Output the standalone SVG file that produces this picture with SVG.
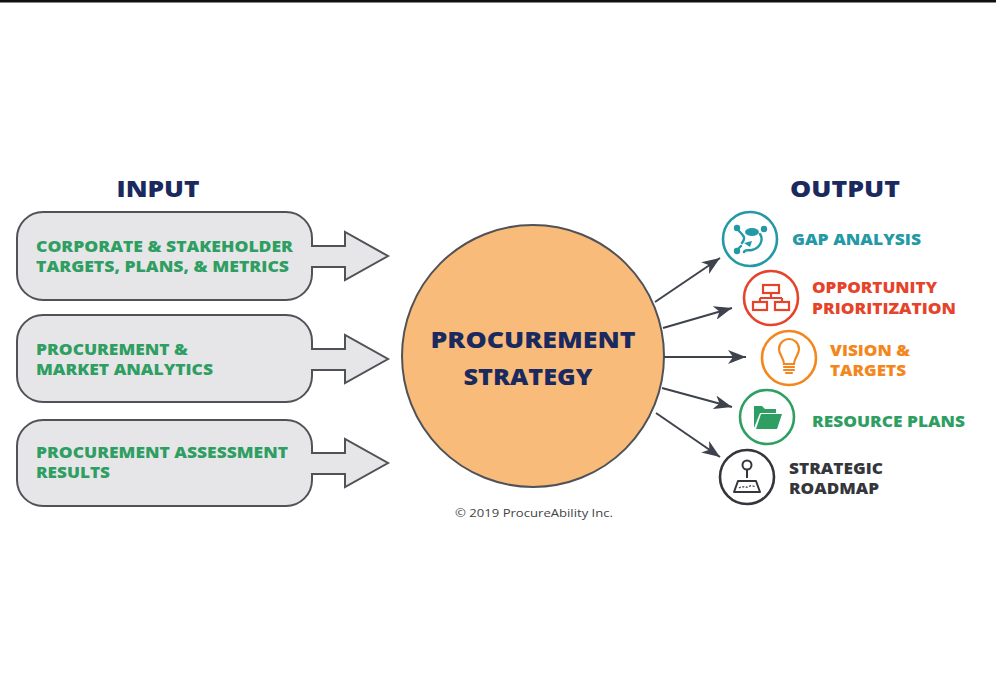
<svg xmlns="http://www.w3.org/2000/svg" width="996" height="698" viewBox="0 0 996 698">
<defs>
<style>
.t{font-family:"Open Sans","Liberation Sans",Arial,sans-serif;font-weight:800}
.h{font-size:23px;fill:#1b2a5e}
.in{font-size:15.5px;fill:#2f9e62}
.out{font-size:15px}
.box{fill:#e6e6e8;stroke:#4f5257;stroke-width:2}
.ic{fill:#fff;stroke-width:2.6}
.conn{stroke:#3d424c;stroke-width:2;fill:none}
</style>
<marker id="ah" markerUnits="userSpaceOnUse" markerWidth="20" markerHeight="14" refX="18" refY="7" orient="auto">
<path d="M0,0 L18,7 L0,14 L5,7 Z" fill="#3d424c"/>
</marker>
</defs>
<rect width="996" height="698" fill="#fff"/>
<rect x="0" y="0" width="996" height="2.5" fill="#111"/>

<text class="t h" x="158" y="197" text-anchor="middle" textLength="83" lengthAdjust="spacingAndGlyphs">INPUT</text>
<text class="t h" x="845" y="197" text-anchor="middle" textLength="110" lengthAdjust="spacingAndGlyphs">OUTPUT</text>

<g id="input1">
<path class="box" d="M43,212 H286 A26,26 0 0 1 312,238 V246 H345 V232 L388,256 L345,280 V267 H312 V274 A26,26 0 0 1 286,300 H43 A26,26 0 0 1 17,274 V238 A26,26 0 0 1 43,212 Z"/>
<text class="t in" x="36" y="252" textLength="257" lengthAdjust="spacingAndGlyphs">CORPORATE &amp; STAKEHOLDER</text>
<text class="t in" x="36" y="272" textLength="253" lengthAdjust="spacingAndGlyphs">TARGETS, PLANS, &amp; METRICS</text>
</g>
<g id="input2">
<path class="box" d="M43,315 H286 A26,26 0 0 1 312,341 V349 H345 V335 L388,359 L345,383 V370 H312 V376 A26,26 0 0 1 286,402 H43 A26,26 0 0 1 17,376 V341 A26,26 0 0 1 43,315 Z"/>
<text class="t in" x="36" y="355" textLength="152" lengthAdjust="spacingAndGlyphs">PROCUREMENT &amp;</text>
<text class="t in" x="36" y="375" textLength="177" lengthAdjust="spacingAndGlyphs">MARKET ANALYTICS</text>
</g>
<g id="input3">
<path class="box" d="M43,420 H286 A26,26 0 0 1 312,446 V453 H345 V439 L388,463 L345,487 V474 H312 V480 A26,26 0 0 1 286,506 H43 A26,26 0 0 1 17,480 V446 A26,26 0 0 1 43,420 Z"/>
<text class="t in" x="36" y="458" textLength="252" lengthAdjust="spacingAndGlyphs">PROCUREMENT ASSESSMENT</text>
<text class="t in" x="36" y="478" textLength="74" lengthAdjust="spacingAndGlyphs">RESULTS</text>
</g>

<g id="center">
<circle cx="533" cy="356" r="131" fill="#f9bb7a" stroke="#4f5257" stroke-width="2"/>
<text class="t h" x="533" y="348" text-anchor="middle" textLength="205" lengthAdjust="spacingAndGlyphs">PROCUREMENT</text>
<text class="t h" x="528" y="385" text-anchor="middle" textLength="129" lengthAdjust="spacingAndGlyphs">STRATEGY</text>
</g>
<text x="534" y="517" text-anchor="middle" font-family="'Open Sans','Liberation Sans',sans-serif" font-size="11.5" fill="#444" textLength="158" lengthAdjust="spacingAndGlyphs">© 2019 ProcureAbility Inc.</text>

<g id="connectors">
<line class="conn" x1="655" y1="302" x2="720" y2="258" marker-end="url(#ah)"/>
<line class="conn" x1="663" y1="328" x2="732" y2="308" marker-end="url(#ah)"/>
<line class="conn" x1="664" y1="357" x2="746" y2="357" marker-end="url(#ah)"/>
<line class="conn" x1="662" y1="388" x2="732" y2="407" marker-end="url(#ah)"/>
<line class="conn" x1="656" y1="413" x2="720" y2="457" marker-end="url(#ah)"/>
</g>

<g id="gap">
<circle class="ic" cx="750" cy="239" r="27" stroke="#2499a6"/>
<g fill="none" stroke="#2499a6" stroke-width="2.4" stroke-linecap="round">
<path d="M739,231 C744,236 746,238 742,243 M760,234 C764,240 760,248 752,250 C748,251 745,249 744,252 M741,246 L737,250"/>
<circle cx="737" cy="228" r="2" fill="#2499a6"/>
<circle cx="764" cy="229" r="2" fill="#2499a6"/>
<circle cx="737" cy="251" r="2" fill="#2499a6"/>
</g>
<ellipse cx="752" cy="232" rx="7" ry="4" fill="#2499a6"/>
<path d="M744,243 L752,241 L750,247 Z" fill="#2499a6"/>
<text class="t out" x="792" y="245" fill="#2499a6" textLength="129" lengthAdjust="spacingAndGlyphs">GAP ANALYSIS</text>
</g>

<g id="opportunity">
<circle class="ic" cx="771" cy="298" r="27" stroke="#e5442b"/>
<g fill="none" stroke="#e5442b" stroke-width="2.2">
<rect x="763" y="285" width="16" height="8"/>
<path d="M771,293 V298 M760,298 H782 M760,298 V302 M782,298 V302"/>
<rect x="753" y="302" width="14" height="8"/>
<rect x="775" y="302" width="14" height="8"/>
</g>
<text class="t out" x="812" y="293" fill="#e5442b" textLength="125" lengthAdjust="spacingAndGlyphs">OPPORTUNITY</text>
<text class="t out" x="812" y="314" fill="#e5442b" textLength="144" lengthAdjust="spacingAndGlyphs">PRIORITIZATION</text>
</g>

<g id="vision">
<circle class="ic" cx="789" cy="358" r="27" stroke="#f3871d"/>
<g fill="none" stroke="#f3871d" stroke-width="2.2" stroke-linecap="round">
<path d="M784,364 C784,358 779,355 779,349 C779,343 784,339 789,339 C794,339 799,343 799,349 C799,355 794,358 794,364 Z"/>
<path d="M784,367 H794 M784,370 H794 M786,373 H792"/>
</g>
<text class="t out" x="830" y="356" fill="#f3871d" textLength="80" lengthAdjust="spacingAndGlyphs">VISION &amp;</text>
<text class="t out" x="830" y="376" fill="#f3871d" textLength="76" lengthAdjust="spacingAndGlyphs">TARGETS</text>
</g>

<g id="resource">
<circle class="ic" cx="767" cy="417" r="27" stroke="#2f9e62"/>
<path d="M754,428 V406 H762 L765,409 H776 V413 H760 Z" fill="#2f9e62"/>
<path d="M756,429 L761,414 H782 L777,429 Z" fill="#2f9e62"/>
<text class="t out" x="812" y="427" fill="#2f9e62" textLength="153" lengthAdjust="spacingAndGlyphs">RESOURCE PLANS</text>
</g>

<g id="roadmap">
<circle class="ic" cx="747" cy="477" r="27" stroke="#34363b"/>
<g fill="none" stroke="#34363b" stroke-width="2" stroke-linejoin="round">
<circle cx="747" cy="465" r="4.5"/>
<path d="M747,470 V478"/>
<path d="M738,481 H756 L760,492 H734 Z"/>
<path d="M739,488 C743,485 746,489 750,486 C752,485 754,487 756,486" stroke-width="1.2" stroke-dasharray="2 1.5"/>
</g>
<text class="t out" x="789" y="474" fill="#34363b" textLength="94" lengthAdjust="spacingAndGlyphs">STRATEGIC</text>
<text class="t out" x="789" y="494" fill="#34363b" textLength="90" lengthAdjust="spacingAndGlyphs">ROADMAP</text>
</g>
</svg>
